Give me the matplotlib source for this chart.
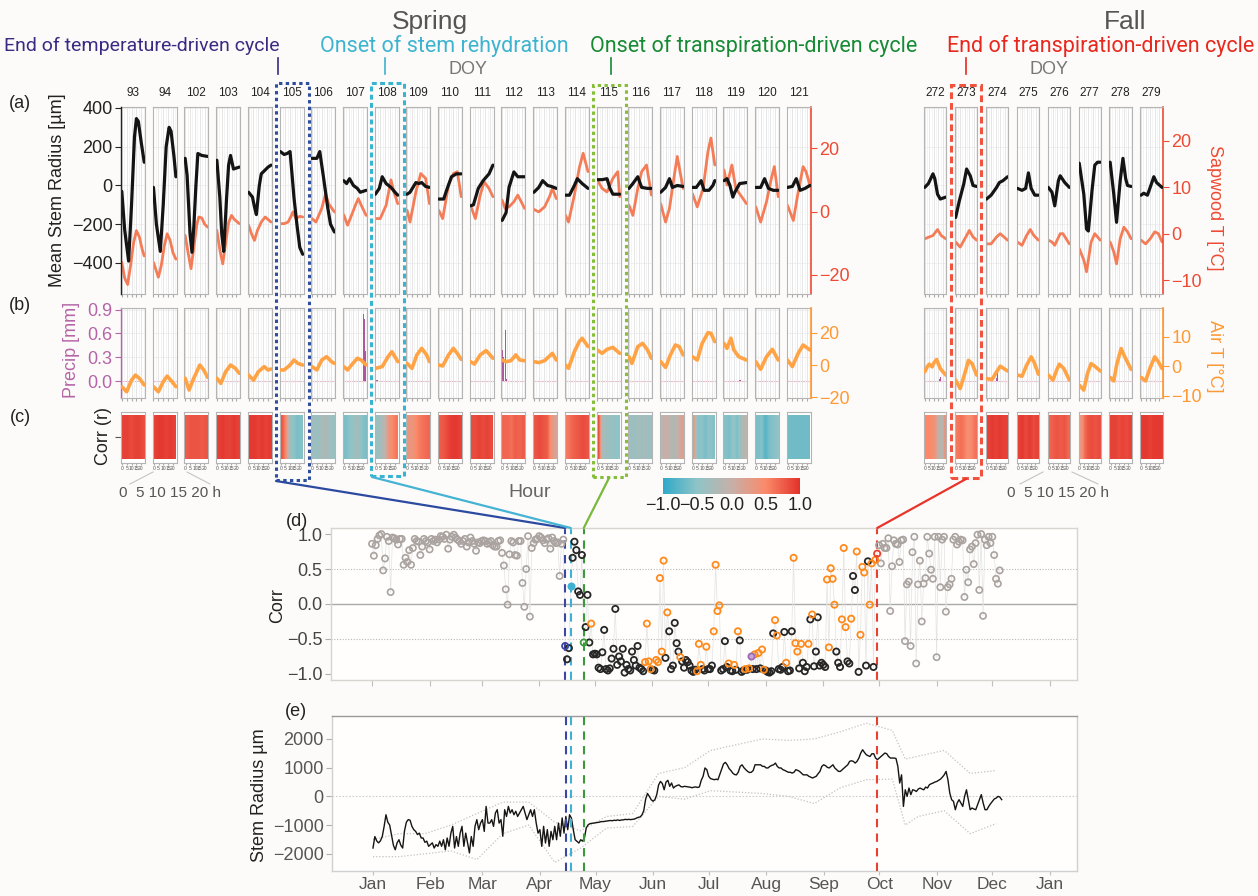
import numpy as np
import matplotlib
matplotlib.use('Agg')
import matplotlib.pyplot as plt
from matplotlib.colors import LinearSegmentedColormap, Normalize
from matplotlib.cm import ScalarMappable
from matplotlib.patches import Rectangle, ConnectionPatch
from matplotlib.lines import Line2D

plt.rcParams['font.family'] = ['Liberation Sans', 'DejaVu Sans']
HEAD_FONT = ['Roboto', 'DejaVu Sans']

# ---------------------------------------------------------------- data
spring_days = [93, 94, 102, 103, 104, 105, 106, 107, 108, 109, 110,
               111, 112, 113, 114, 115, 116, 117, 118, 119, 120, 121]
fall_days = [272, 273, 274, 275, 276, 277, 278, 279]

# mean diurnal stem radius (um), (hour, value)
stem_um = {
    93: [(0, -30), (3, -230), (7, -390), (10, -100), (13, 250), (15, 345), (17, 330), (20, 220), (23, 120)],
    94: [(0, -10), (3, -200), (7, -340), (10, -100), (13, 200), (16, 300), (18, 280), (21, 150), (23, 45)],
    102: [(0, 140), (2, 50), (5, -250), (7, -345), (9, -200), (11, 0), (13, 165), (17, 155), (23, 150)],
    103: [(0, 130), (3, -60), (5, -250), (7, -340), (10, -60), (12, 105), (14, 155), (17, 85), (20, 90), (23, 95)],
    104: [(0, -35), (4, -60), (6, -110), (8, -150), (11, 0), (13, 60), (17, 80), (20, 95), (23, 105)],
    105: [(0, 175), (4, 160), (7, 165), (10, 175), (12, 60), (14, -60), (17, -200), (20, -320), (23, -355)],
    106: [(0, 140), (5, 140), (8, 175), (12, 35), (16, -110), (19, -200), (23, -240)],
    107: [(0, 25), (3, 10), (6, 35), (10, 0), (14, -15), (17, -35), (23, -25)],
    108: [(0, -45), (4, -15), (7, 45), (11, 10), (16, -10), (21, -40), (23, -50)],
    109: [(0, -45), (3, -35), (9, 15), (12, 10), (15, 15), (19, -5), (23, -10)],
    110: [(0, -70), (5, -70), (8, -25), (13, 45), (18, 60), (23, 60)],
    111: [(0, -105), (3, -100), (8, -15), (13, 25), (19, 60), (23, 105)],
    112: [(0, -180), (4, -140), (7, -10), (12, 70), (16, 45), (23, 45)],
    113: [(0, -35), (5, -10), (9, 25), (14, 0), (18, -5), (23, -15)],
    114: [(0, -50), (4, -50), (9, 0), (12, 35), (17, 10), (23, -15)],
    115: [(0, 30), (5, 30), (10, 35), (13, -15), (16, -45), (23, -45)],
    116: [(0, -15), (4, 10), (9, 45), (13, -10), (19, -15), (23, -15)],
    117: [(0, -35), (5, -10), (9, 35), (12, -10), (17, 0), (23, -5)],
    118: [(0, -10), (4, -10), (9, 25), (12, -25), (17, -25), (21, 0), (23, 25)],
    119: [(0, 25), (3, 35), (6, 0), (9, -60), (11, -35), (16, 10), (23, 15)],
    120: [(0, -10), (5, -10), (9, 35), (13, -15), (18, -25), (23, -25)],
    121: [(0, -10), (5, -5), (9, 35), (13, -25), (18, -15), (23, 0)],
    272: [(0, -10), (4, 10), (9, 60), (11, 35), (14, -45), (17, -70), (23, -60)],
    273: [(0, -165), (4, -80), (9, 10), (12, 85), (16, 50), (19, 0), (23, -5)],
    274: [(0, -70), (5, -50), (11, -10), (14, 15), (18, 25), (23, 45)],
    275: [(0, -15), (5, -25), (9, -15), (12, 65), (15, -15), (19, -50), (23, -50)],
    276: [(0, -10), (4, -35), (7, -105), (11, 25), (13, 50), (18, 15), (23, -10)],
    277: [(0, 115), (5, -45), (8, -225), (10, -235), (14, -25), (17, 105), (20, 120), (23, 120)],
    278: [(0, 120), (4, -45), (7, -190), (11, 25), (14, 140), (17, 35), (19, 0), (23, -5)],
    279: [(0, -50), (3, -40), (7, -50), (10, -10), (14, 45), (17, 15), (23, -10)],
}

# sapwood temperature (degC)
sapwood_c = {
    93: [(0, -16), (3, -21), (6, -23), (9, -17), (12, -10), (15, -6), (18, -8), (21, -12), (23, -14)],
    94: [(0, -16), (5, -20.7), (8, -17), (11, -11), (14, -7), (17, -9), (20, -13), (23, -15)],
    102: [(0, -7.5), (3, -13), (6, -18), (9, -11), (12, -4), (14, -1.7), (17, -2), (20, -4), (23, -4.9)],
    103: [(0, -5.9), (3, -12), (6, -16.5), (9, -10), (12, -3.5), (15, -1.2), (18, -2.5), (23, -3.8)],
    104: [(0, -4.3), (3, -7), (6, -9.1), (9, -6), (13, -3.3), (17, -1.7), (20, -2.5), (23, -3.3)],
    105: [(0, -3.8), (4, -3.8), (8, -3.3), (11, -1.5), (13, -0.1), (16, -2.2), (20, -1.5), (23, -1.7)],
    106: [(0, -2.2), (4, -3.3), (10, 1.0), (14, 5.7), (17, 2.5), (23, -0.1)],
    107: [(0, -1), (4, -4.3), (8, -1.2), (12, 2), (15, 4.1), (18, 2), (23, -1.2)],
    108: [(0, -2.2), (5, -2.2), (11, 2), (16, 10), (19, 6.2), (23, 2.5)],
    109: [(0, 0.4), (3, -3.3), (9, 6.2), (14, 12), (19, 10.5), (23, 2.5)],
    110: [(0, 0.4), (4, -2.2), (10, 8.4), (15, 12), (19, 12.6), (23, 4.7)],
    111: [(0, 2), (5, -2.2), (10, 5.2), (14, 9.4), (19, 7.3), (23, 4.7)],
    112: [(0, 3.6), (3, 1), (7, 1.5), (12, 3.1), (16, 5.2), (23, 1)],
    113: [(0, 0.7), (5, -0.1), (11, 1.5), (16, 4.7), (19, 7.3), (23, 4.1)],
    114: [(0, -1.2), (3, -3.3), (9, 5.2), (14, 13.7), (18, 18.4), (23, 12.6)],
    115: [(0, 10), (5, 7.3), (10, 6.2), (16, 10.5), (21, 12.6), (23, 4.7)],
    116: [(0, 2), (4, -1.2), (9, 7.3), (13, 12.6), (18, 14.7), (23, 5.2)],
    117: [(0, 2.5), (5, -3.3), (9, 1), (14, 11.5), (17, 17.4), (23, 7.3)],
    118: [(0, 5.7), (5, 1.5), (11, 7.3), (16, 19), (19, 23.2), (23, 14.7)],
    119: [(0, 13.1), (3, 8.4), (8, 14.7), (12, 7.3), (18, 4.7), (23, 2.5)],
    120: [(0, 1.5), (5, -3.3), (11, 3.1), (16, 10.5), (19, 14.2), (23, 4.7)],
    121: [(0, 2), (6, -2.8), (11, 6.2), (16, 14.2), (19, 12.6), (23, 8.4)],
    272: [(0, -1.1), (5, -0.7), (9, -0.4), (14, 0.9), (18, -0.4), (23, -1.1)],
    273: [(0, -1.8), (5, -2.9), (12, -0.4), (15, 0.7), (19, -0.7), (23, -1.4)],
    274: [(0, -2.2), (5, -2.2), (11, -0.7), (15, 0), (23, -1.4)],
    275: [(0, -1.8), (5, -2.5), (10, -0.4), (14, 0.9), (18, -0.4), (23, -1.4)],
    276: [(0, -1.4), (4, -1.8), (7, -2.5), (13, 0), (16, 0), (23, -2.2)],
    277: [(0, -3.2), (5, -5.7), (8, -8.2), (13, -1.8), (17, 0), (23, -1.4)],
    278: [(0, -1.8), (4, -3.9), (7, -6.5), (11, -1.1), (15, 1.4), (19, 0.4), (23, -1.1)],
    279: [(0, -1.4), (5, -2.2), (10, -1.1), (15, 0.4), (19, 0), (23, -1.8)],
}

# air temperature (degC)
air_c = {
    93: [(0, -13.5), (5, -16.7), (10, -9.4), (14, -6.3), (18, -8.3), (23, -12.5)],
    94: [(0, -13.5), (5, -16.7), (10, -10.4), (14, -6.9), (19, -10.4), (23, -13.5)],
    102: [(0, -8.3), (4, -15.6), (8, -9.4), (15, 0), (19, -3.1), (23, -7.7)],
    103: [(0, -8.3), (4, -11.5), (9, -4.2), (14, 0), (19, -2.1), (23, -5.2)],
    104: [(0, -6.3), (5, -9.4), (10, -4.2), (16, -1), (20, -3.1), (23, -2.5)],
    105: [(0, -3.1), (4, -3.1), (10, 0), (14, 3.1), (18, 1), (23, 0)],
    106: [(0, -1), (5, -3.1), (10, 3.1), (15, 5.2), (20, 2.1), (23, 1)],
    107: [(0, -1), (4, -3.1), (8, 0), (14, 4.2), (18, 3.1), (23, 0)],
    108: [(0, -2.1), (4, -1.5), (7, -1), (13, 5.2), (17, 8.3), (23, 2.1)],
    109: [(0, 1), (5, -2.1), (10, 6.3), (15, 10.4), (20, 6.3), (23, 2.1)],
    110: [(0, 0), (4, -0.6), (10, 6.3), (15, 10.4), (20, 6.3), (23, 3.5)],
    111: [(0, 2.1), (4, 0.6), (10, 6.3), (16, 9), (20, 6.3), (23, 4.2)],
    112: [(0, 3.1), (4, 2.1), (9, 2.7), (14, 6.3), (18, 3.1), (23, 2.7)],
    113: [(0, 2.1), (5, 1.5), (11, 2.7), (16, 5.6), (19, 7.3), (23, 3.1)],
    114: [(0, 0), (3, -2.1), (9, 8.3), (14, 14.6), (17, 16.7), (23, 11.5)],
    115: [(0, 9.4), (5, 7.3), (10, 9.8), (16, 11), (23, 7.3)],
    116: [(0, 5.2), (3, 1), (9, 11.5), (14, 13.5), (19, 9.4), (23, 4.2)],
    117: [(0, 2.1), (5, -1.5), (10, 6.3), (15, 12.5), (19, 11.5), (23, 6.3)],
    118: [(0, 5.2), (5, 3.1), (10, 13.5), (16, 20.2), (19, 19.8), (23, 14.6)],
    119: [(0, 13.5), (3, 10.4), (7, 16.7), (10, 9.4), (15, 5.2), (23, 3.1)],
    120: [(0, 2.1), (5, -2.7), (11, 5.2), (17, 9.8), (23, 3.1)],
    121: [(0, 3.1), (5, -1), (11, 7.3), (16, 12.5), (23, 9.4)],
    272: [(0, -1.9), (3, 0), (5, 0.7), (8, -0.2), (10, 1.1), (13, 2.3), (17, -0.8), (23, -3)],
    273: [(0, -4.7), (5, -7.6), (10, -2.5), (14, 2), (18, 0.9), (23, -3)],
    274: [(0, -4.2), (6, -4.5), (11, -1.9), (15, 0), (19, -0.8), (23, -1.6)],
    275: [(0, -3), (5, -3.4), (10, 0.3), (15, 3.2), (18, 1.5), (23, -2.7)],
    276: [(0, -3), (5, -4.7), (9, -1.4), (12, 0.7), (17, -0.8), (23, -4.7)],
    277: [(0, -6.4), (5, -8.1), (9, -2.5), (13, 0.9), (17, 0), (23, -1.6)],
    278: [(0, -3.8), (4, -5), (7, 0.3), (12, 6), (16, 3.2), (23, -1.1)],
    279: [(0, -3.8), (5, -5), (10, -0.5), (15, 3.2), (19, 1.5), (23, -0.8)],
}

# hourly precipitation (mm), only days with rain
precip_mm = {
    107: [(20, 0.85), (21, 0.78), (22, 0.38)],
    108: [(0, 0.30), (1, 0.02), (2, 0.02)],
    111: [(19, 0.15), (20, 0.12), (21, 0.06), (22, 0.03)],
    112: [(0, 0.39), (1, 0.30), (3, 0.64), (4, 0.03)],
    119: [(16, 0.01), (17, 0.01)],
    272: [(0, 0.02), (16, 0.03), (17, 0.05)],
    274: [(0, 0.02), (11, 0.04), (12, 0.10)],
}

# correlation between stem radius and sapwood T, in 4-hour blocks
corr_hours = [0, 4, 8, 12, 16, 20, 24]
corr_block = {
    93: [0.90, 0.90, 0.85, 0.90, 0.90, 0.85],
    94: [0.90, 0.95, 0.95, 0.90, 0.95, 0.90],
    102: [0.75, 0.80, 0.80, 0.80, 0.75, 0.80],
    103: [0.90, 0.95, 0.90, 0.90, 0.95, 0.90],
    104: [0.95, 0.95, 0.90, 0.95, 0.90, 0.95],
    105: [0.80, 0.50, -0.30, -0.50, -0.60, -0.55],
    106: [-0.35, -0.40, -0.30, -0.20, -0.35, -0.40],
    107: [-0.60, -0.50, -0.45, -0.30, -0.50, -0.60],
    108: [-0.40, -0.30, -0.10, 0.30, 0.50, 0.60],
    109: [0.35, 0.35, 0.50, 0.60, 0.65, 0.70],
    110: [0.75, 0.80, 0.90, 0.95, 0.95, 0.90],
    111: [0.85, 0.85, 0.90, 0.85, 0.90, 0.85],
    112: [0.70, 0.70, 0.65, 0.75, 0.70, 0.75],
    113: [0.80, 0.85, 0.80, 0.75, 0.40, 0.15],
    114: [0.60, 0.70, 0.75, 0.80, 0.85, 0.80],
    115: [0.85, -0.30, -0.35, -0.40, -0.45, -0.50],
    116: [-0.35, -0.40, -0.30, -0.35, -0.30, -0.40],
    117: [-0.10, 0.05, -0.15, -0.20, 0.00, 0.20],
    118: [0.30, -0.55, -0.50, -0.60, -0.50, -0.55],
    119: [-0.55, -0.60, -0.45, -0.60, -0.30, -0.10],
    120: [-0.60, -0.55, -0.80, -0.60, -0.55, -0.50],
    121: [-0.65, -0.65, -0.65, -0.65, -0.65, -0.65],
    272: [0.50, 0.50, 0.40, 0.10, -0.30, 0.45],
    273: [0.60, 0.65, 0.55, 0.40, 0.55, 0.65],
    274: [0.90, 0.95, 0.90, 0.95, 0.90, 0.90],
    275: [0.90, 0.95, 0.85, 0.95, 0.85, 0.90],
    276: [0.70, 0.75, 0.80, 0.75, 0.80, 0.70],
    277: [0.30, 0.65, 0.80, 0.85, 0.80, 0.85],
    278: [0.90, 0.90, 0.85, 0.90, 0.85, 0.90],
    279: [0.95, 0.95, 0.90, 0.95, 0.95, 0.95],
}

# daily correlation, DOY 1-104 (before the season)
corr_winter = [
    0.86, 0.69, 0.84, 0.93, 0.98, 1.00, 0.48, 0.65, 0.96, 0.90,
    0.17, 0.95, 0.94, 0.92, 0.85, 0.93, 0.93, 0.56, 0.66, 0.60,
    0.77, 0.56, 0.80, 0.93, 0.90, 0.89, 0.70, 0.82, 0.93, 0.90,
    0.88, 0.78, 0.93, 0.90, 0.92, 0.88, 0.92, 0.97, 0.96, 0.93,
    0.99, 0.79, 0.92, 0.96, 0.99, 0.95, 0.92, 0.90, 0.86, 0.90,
    0.93, 0.82, 0.88, 0.95, 0.90, 0.86, 0.76, 0.88, 0.87, 0.90,
    0.91, 0.90, 0.86, 0.88, 0.90, 0.84, 0.82, 0.82, 0.90, 0.91,
    0.73, 0.55, 0.21, -0.01, 0.71, 0.90, 0.88, 0.70, 0.69, 0.90,
    0.90, 0.30, -0.04, 0.50, 0.97, -0.18, 0.80, 0.87, 0.92, 0.93,
    0.97, 0.95, 0.91, 0.87, 0.92, 0.94, 0.79, 0.95, 0.90, 0.87,
    0.88, 0.40, 0.86, 0.92,
]
# daily correlation, DOY 105-273 (growing season)
corr_season = [
    -0.60, -0.79, -0.63, 0.26, 0.66, 0.89, 0.77, 0.18, 0.13, 0.70,
    -0.55, -0.33, 0.13, -0.55, -0.28, -0.72, -0.71, -0.72, -0.91, -0.93,
    -0.69, -0.37, -0.93, -0.95, -0.92, -0.78, -0.64, -0.07, -0.87, -0.75,
    -0.82, -0.64, -0.98, -0.87, -0.93, -0.95, -0.68, -0.80, -0.88, -0.60,
    -0.91, -0.93, -0.96, -0.83, -0.28, -0.82, -0.93, -0.94, -0.95, -0.80,
    -0.83, 0.37, -0.68, 0.62, -0.77, -0.12, -0.39, -0.93, -0.88, -0.27,
    -0.56, -0.68, -0.76, -0.82, -0.91, -0.80, -0.83, -0.88, -0.95, -0.97,
    -0.94, -0.96, -0.57, -0.87, -0.93, -0.95, -0.61, -0.93, -0.93, -0.88,
    -0.39, 0.56, -0.10, -0.02, -0.95, -0.93, -0.53, -0.90, -0.85, -0.95,
    -0.96, -0.87, -0.94, -0.39, -0.52, -0.97, -0.95, -0.93, -0.94, -0.92,
    -0.74, -0.93, -0.72, -0.93, -0.70, -0.92, -0.65, -0.94, -0.95, -0.97,
    -0.98, -0.96, -0.42, -0.23, -0.45, -0.93, -0.94, -0.90, -0.40, -0.84,
    -0.96, -0.95, -0.39, 0.66, -0.56, -0.68, -0.92, -0.57, -0.84, -0.96,
    -0.90, -0.57, -0.22, -0.15, -0.89, -0.68, -0.19, -0.88, -0.84, -0.87,
    -0.90, 0.35, -0.62, 0.51, 0.36, -0.01, -0.68, -0.84, -0.90, -0.22,
    0.80, -0.33, -0.82, -0.85, -0.21, 0.40, 0.20, 0.75, -0.97, -0.44,
    0.53, 0.45, -0.88, 0.61, -0.01, 0.58, -0.90, 0.63, 0.72,
]
# days of the season flagged in orange
orange_doy = [119, 148, 149, 150, 151, 154, 155, 156, 157, 158, 160, 167,
              176, 177, 178, 181, 185, 186, 187, 188, 193, 196, 198, 202,
              204, 207, 209, 211, 212, 218, 219, 224, 228, 229, 230, 232,
              236, 238, 246, 247, 248, 249, 250, 254, 255, 256, 259, 262,
              264, 265, 266, 269, 270, 272]
other_doy = 205
# daily correlation, DOY 274 onward
corr_autumn = [
    0.84, 0.58, 0.86, 0.80, 0.80, 0.94, -0.10, 0.54, 0.91, 0.86,
    0.85, 0.60, 0.91, 0.92, -0.53, 0.28, 0.32, -0.60, 0.74, 0.96,
    -0.85, 0.28, 0.62, -0.25, 0.29, 0.37, 0.96, 0.72, 0.49, 0.36,
    0.96, -0.76, 0.96, 0.24, 0.92, 0.96, -0.11, 0.24, 0.28, 0.36,
    0.92, 0.96, 0.85, 0.89, 0.92, 0.91, 0.10, 0.49, 0.31, 0.78,
    0.82, 0.57, 0.87, 0.99, 0.20, 1.00, -0.17, 0.92, 0.84, 0.96,
    0.87, 0.96, 0.70, 0.36, 0.29, 0.48,
]

# event days
doy_temp_end = 105
doy_rehydration = 108
doy_transp_onset = 115
doy_transp_end = 273

# daily stem radius (um), DOY 1-340
radius_daily = [
    -1800, -1400, -1550, -1620, -1550, -1400, -1050, -640, -900, -1000,
    -1350, -1700, -1860, -1620, -1510, -1700, -1800, -1200, -900, -810,
    -830, -1045, -1160, -1220, -1330, -1280, -1450, -1450, -1600, -1560,
    -1740, -1680, -1620, -1800, -1680, -1740, -1560, -1740, -1510, -1860,
    -1450, -1740, -1280, -1045, -1800, -1400, -1740, -1280, -1045, -1740,
    -1280, -1625, -1970, -1400, -1740, -1045, -810, -1160, -930, -810,
    -1220, -350, -930, -930, -810, -1045, -580, -465, -930, -810,
    -1390, -465, -700, -350, -580, -465, -640, -520, -700, -580,
    -465, -350, -580, -810, -640, -465, -700, -465, -930, -1280,
    -1160, -1740, -1045, -1625, -1160, -1740, -1220, -1510, -1045, -1510,
    -930, -1390, -750, -1280, -700, -1160, -640, -760, -1160, -1510,
    -1570, -1625, -1510, -1560, -1450, -1100, -990, -950, -940, -930,
    -920, -910, -900, -880, -880, -870, -860, -850, -840, -850,
    -830, -840, -820, -840, -820, -820, -800, -810, -800, -810,
    -800, -790, -760, -730, -720, -650, -500, -100, 100, 0,
    -115, -170, -115, 60, 400, 520, 450, 230, 500, 560,
    350, 465, 290, 350, 380, 400, 340, 330, 350, 340,
    330, 320, 300, 320, 330, 310, 330, 560, 700, 990,
    930, 700, 620, 600, 580, 600, 580, 760, 950, 1130,
    1185, 1100, 970, 900, 810, 760, 750, 850, 1045, 1100,
    1000, 930, 870, 830, 840, 900, 1100, 1100, 1100, 1100,
    1045, 1045, 990, 990, 1045, 1080, 1100, 1160, 1045, 990,
    990, 930, 905, 870, 840, 840, 810, 840, 930, 905,
    870, 810, 750, 750, 750, 700, 670, 640, 670, 700,
    790, 870, 1045, 1100, 1070, 1010, 990, 1045, 1100, 990,
    930, 870, 870, 930, 990, 1045, 1100, 1220, 1240, 1220,
    1160, 1220, 1335, 1510, 1625, 1530, 1450, 1415, 1390, 1485,
    1485, 1335, 1280, 1335, 1390, 1450, 1510, 1485, 1390, 1335,
    1335, 1335, 1320, 1045, 465, 750, -350, 230, 0, 290,
    60, 230, 210, 170, 255, 290, 255, 230, 325, 290,
    405, 440, 465, 500, 520, 560, 600, 670, 750, 870,
    580, 115, -115, -175, -465, -230, -115, -230, -350, 0,
    230, -115, -465, -405, -440, -465, -290, -115, 60, -230,
    -465, -465, -350, -255, -175, -90, -60, 0, -25, -115,
]
# spread between trees (upper / lower bound, um)
spread_doy = [1, 15, 29, 43, 57, 71, 85, 99, 113, 127, 141, 155, 169,
              183, 197, 211, 225, 239, 253, 267, 281, 288, 295, 309, 323, 337]
spread_hi = [-1500, -1300, -1300, -1000, -600, -200, -200, -900, -1200, -700,
             -600, 800, 1000, 1600, 1800, 2000, 1950, 2000, 2250, 2550,
             2300, 1300, 1400, 1600, 800, 900]
spread_lo = [-2100, -2100, -2000, -1900, -2200, -1300, -1000, -2300, -1800, -1100,
             -1050, 0, -100, 200, 150, 100, 0, -250, 300, 580,
             600, -1000, -700, -500, -1300, -950]

month_doy = [1, 32, 60, 91, 121, 152, 182, 213, 244, 274, 305, 335, 366]
month_labels = ['Jan', 'Feb', 'Mar', 'Apr', 'May', 'Jun', 'Jul',
                'Aug', 'Sep', 'Oct', 'Nov', 'Dec', 'Jan']

# ---------------------------------------------------------------- layout
W, H = 1258, 896
fig = plt.figure(figsize=(W / 100, H / 100), dpi=100)
fig.patch.set_facecolor('#fdfbfa')


def px_rect(x0, y0, x1, y1):
    return [x0 / W, 1 - y1 / H, (x1 - x0) / W, (y1 - y0) / H]


def fxy(x, y):
    return (x / W, 1 - y / H)


def ftext(x, y, s, **kw):
    kw.setdefault('ha', 'center')
    kw.setdefault('va', 'center')
    return fig.text(x / W, 1 - y / H, s, **kw)


corr_cmap = LinearSegmentedColormap.from_list(
    'corr', [(0.0, '#2fa9c9'), (0.25, '#8fc4c7'), (0.5, '#c6b0a8'),
             (0.75, '#fb8a6a'), (1.0, '#e2312a')])

C_STEM = '#141414'
C_SAP = '#f47c57'
C_SAP_AX = '#ee4a32'
C_AIR = '#ffa345'
C_AIR_AX = '#ff9933'
C_RAIN = '#b0559f'
C_RAIN_AX = '#b565a7'

STEM_LIM = (-560, 405)
RAIN_LIM = (-0.21, 0.92)


def hour_axis(ax, labels=False):
    ax.set_xlim(-0.8, 23.8)
    ax.set_xticks([0, 5, 10, 15, 20])
    ax.set_xticks([2.5, 7.5, 12.5, 17.5, 22.5], minor=True)
    ax.grid(True, which='major', axis='x', color='#e2e2e2', lw=0.6)
    ax.grid(True, which='minor', axis='x', color='#f0f0f0', lw=0.5)
    ax.set_axisbelow(True)
    ax.tick_params(axis='x', which='major', length=2, color='#aaaaaa',
                   labelbottom=labels, labelsize=3.6, pad=1, labelcolor='#555555')
    ax.tick_params(axis='x', which='minor', length=0)
    for s in ax.spines.values():
        s.set_color('#b4b4b4')
        s.set_linewidth(0.8)


def hide_y(ax):
    ax.tick_params(axis='y', which='both', left=False, right=False,
                   labelleft=False, labelright=False)


groups = [
    dict(days=spring_days, x0=121, pitch=31.7, width=24,
         sap_lim=(-26, 33), sap_ticks=[-20, 0, 20],
         air_lim=(-20.6, 35.6), air_ticks=[-20, 0, 20], fall=False),
    dict(days=fall_days, x0=924, pitch=30.9, width=22.5,
         sap_lim=(-13, 27.3), sap_ticks=[-10, 0, 10, 20],
         air_lim=(-10.8, 19.8), air_ticks=[-10, 0, 10], fall=True),
]

for g in groups:
    n = len(g['days'])
    for i, doy in enumerate(g['days']):
        left = g['x0'] + i * g['pitch']
        right = left + g['width']
        first = (i == 0) and not g['fall']
        last = i == n - 1
        ftext((left + right) / 2, 93, str(doy), fontsize=8.5, color='#222222')

        # (a) sapwood T (host) and stem radius (twin on top)
        ax_t = fig.add_axes(px_rect(left, 107, right, 294))
        ax_t.set_facecolor('white')
        hour_axis(ax_t)
        lo, hi = g['sap_lim']
        for sv in [-400, -200, 0, 200, 400]:
            frac = (sv - STEM_LIM[0]) / (STEM_LIM[1] - STEM_LIM[0])
            ax_t.axhline(lo + frac * (hi - lo), color='#ededed', lw=0.6, zorder=0)
        h, v = zip(*sapwood_c[doy])
        ax_t.plot(h, v, color=C_SAP, lw=2.0, solid_capstyle='round',
                  solid_joinstyle='round', zorder=2)
        ax_t.set_ylim(g['sap_lim'])
        ax_s = ax_t.twinx()
        ax_s.set_ylim(STEM_LIM)
        h, v = zip(*stem_um[doy])
        ax_s.plot(h, v, color=C_STEM, lw=2.3, solid_capstyle='round',
                  solid_joinstyle='round')
        for s in ax_s.spines.values():
            s.set_visible(False)
        hide_y(ax_s)
        ax_t.yaxis.tick_right()
        hide_y(ax_t)
        if first:
            ax_s.yaxis.tick_left()
            ax_s.spines['left'].set_visible(True)
            ax_s.spines['left'].set_color('#222222')
            ax_s.spines['left'].set_linewidth(1.0)
            ax_s.set_yticks([-400, -200, 0, 200, 400])
            ax_s.tick_params(axis='y', left=True, labelleft=True, labelsize=13,
                             length=4, color='#222222', labelcolor='#222222', pad=2)
        if last:
            ax_t.set_yticks(g['sap_ticks'])
            ax_t.spines['right'].set_color(C_SAP_AX)
            ax_t.spines['right'].set_linewidth(1.2)
            ax_t.tick_params(axis='y', right=True, labelright=True, labelsize=13,
                             length=4, color=C_SAP_AX, labelcolor=C_SAP_AX, pad=2)

        # (b) precipitation (host) and air T (twin)
        ax_p = fig.add_axes(px_rect(left, 308, right, 398))
        ax_p.set_facecolor('white')
        hour_axis(ax_p)
        ax_p.set_ylim(RAIN_LIM)
        for pv in [0.3, 0.6, 0.9]:
            ax_p.axhline(pv, color='#ededed', lw=0.6, zorder=0)
        ax_p.axhline(0, color='#e9bfcd', lw=0.8, zorder=0)
        if doy in precip_mm:
            h, v = zip(*precip_mm[doy])
            ax_p.bar(h, v, width=0.9, color=C_RAIN, zorder=2)
        hide_y(ax_p)
        ax_a = ax_p.twinx()
        ax_a.set_ylim(g['air_lim'])
        h, v = zip(*air_c[doy])
        ax_a.plot(h, v, color=C_AIR, lw=2.6, solid_capstyle='round',
                  solid_joinstyle='round')
        for s in ax_a.spines.values():
            s.set_visible(False)
        hide_y(ax_a)
        ax_p.yaxis.tick_left()
        hide_y(ax_p)
        if first:
            ax_p.set_yticks([0.0, 0.3, 0.6, 0.9])
            ax_p.set_yticklabels(['0.0', '0.3', '0.6', '0.9'])
            ax_p.spines['left'].set_color(C_RAIN_AX)
            ax_p.spines['left'].set_linewidth(1.0)
            ax_p.tick_params(axis='y', left=True, labelleft=True, labelsize=13,
                             length=4, color=C_RAIN_AX, labelcolor=C_RAIN_AX, pad=2)
        if last:
            ax_a.yaxis.tick_right()
            ax_a.set_yticks(g['air_ticks'])
            ax_a.spines['right'].set_visible(True)
            ax_a.spines['right'].set_color(C_AIR_AX)
            ax_a.spines['right'].set_linewidth(1.2)
            ax_a.tick_params(axis='y', right=True, labelright=True, labelsize=13,
                             length=4, color=C_AIR_AX, labelcolor=C_AIR_AX, pad=2)

        # (c) hourly correlation strip
        ax_c = fig.add_axes(px_rect(left, 412, right, 463))
        ax_c.set_facecolor('white')
        ax_c.imshow(np.array([corr_block[doy]]), cmap=corr_cmap, vmin=-1, vmax=1,
                    aspect='auto', interpolation='bilinear',
                    extent=(corr_hours[0] - 0.5, corr_hours[-1] - 0.5, 0, 1))
        ax_c.set_ylim(-0.08, 1.08)
        ax_c.set_xlim(-1.3, 24.3)
        ax_c.set_xticks([0, 5, 10, 15, 20])
        ax_c.set_xticklabels(['0', '5', '10', '15', '20'])
        ax_c.tick_params(axis='x', length=1.5, color='#aaaaaa', labelsize=3.6,
                         pad=1, labelcolor='#555555')
        for s in ax_c.spines.values():
            s.set_color('#b4b4b4')
            s.set_linewidth(0.8)
        if first:
            ax_c.set_yticks([0.5])
            ax_c.set_yticklabels([''])
            ax_c.tick_params(axis='y', length=4, color='#555555')
        else:
            ax_c.set_yticks([])

# axis titles of the small multiples
ftext(58, 190, 'Mean Stem Radius [µm]', rotation=90, fontsize=13, color='#222222')
ftext(72, 350, 'Precip [mm]', rotation=90, fontsize=13, color=C_RAIN_AX)
ftext(104, 436, 'Corr (r)', rotation=90, fontsize=13, color='#222222')
ftext(1215, 208, 'Sapwood T [°C]', rotation=270, fontsize=13, color=C_SAP_AX)
ftext(1214, 356, 'Air T [°C]', rotation=270, fontsize=13, color=C_AIR_AX)

for lab, y in [('(a)', 104), ('(b)', 305), ('(c)', 417)]:
    ftext(20, y, lab, fontsize=13, color='#222222')

# hour scale hints under the strips
ftext(170, 493, '0  5 10 15 20 h', fontsize=11, color='#555555')
ftext(1058, 493, '0  5 10 15 20 h', fontsize=11, color='#555555')
for (xa, ya), (xb, yb) in [((130, 484), (153, 472)), ((187, 472), (210, 484)),
                           ((1020, 484), (1043, 472)), ((1072, 472), (1098, 484))]:
    fig.add_artist(Line2D([xa / W, xb / W], [1 - ya / H, 1 - yb / H],
                          transform=fig.transFigure, color='#c4c4c4', lw=0.8))
ftext(530, 492, 'Hour', fontsize=14, color='#666666')

# colour bar
cax = fig.add_axes(px_rect(663, 478, 800, 494))
cb = fig.colorbar(ScalarMappable(norm=Normalize(-1, 1), cmap=corr_cmap),
                  cax=cax, orientation='horizontal')
cb.set_ticks([-1, -0.5, 0, 0.5, 1])
cb.set_ticklabels(['−1.0', '−0.5', '0.0', '0.5', '1.0'])
cb.ax.tick_params(labelsize=13, length=0, pad=2, labelcolor='#222222')
cb.outline.set_visible(False)

# ---------------------------------------------------------------- (d) daily correlation
DOY_LIM = (-21.1, 380.6)
C_EVT = {doy_temp_end: '#3d46a3', doy_rehydration: '#3fb2d4',
         doy_transp_onset: '#3a9a3a', doy_transp_end: '#e8412e'}

ax_d = fig.add_axes(px_rect(331, 528, 1077, 680))
ax_d.set_facecolor('#fffefd')
ax_d.set_xlim(DOY_LIM)
ax_d.set_ylim(-1.086, 1.086)

win_doy = np.arange(1, 1 + len(corr_winter))
sea_doy = np.arange(105, 105 + len(corr_season))
aut_doy = np.arange(274, 274 + len(corr_autumn))
sea_r = np.array(corr_season)

all_doy = np.concatenate([win_doy, sea_doy, aut_doy])
all_r = np.concatenate([corr_winter, corr_season, corr_autumn])
ax_d.plot(all_doy, all_r, color='#e2e2e2', lw=0.5, zorder=1)
ax_d.axhline(0, color='#a8a8a8', lw=1.0, zorder=0)
for yv in (-0.5, 0.5):
    ax_d.axhline(yv, color='#b8b8b8', lw=0.8, ls=(0, (1, 1.5)), zorder=0)
for d, c in C_EVT.items():
    ax_d.axvline(d, color=c, lw=1.5, ls=(0, (4, 3)), zorder=2)

gray = '#aaa39f'
ax_d.scatter(win_doy, corr_winter, s=20, facecolors='none', edgecolors=gray,
             linewidths=1.2, zorder=3)
ax_d.scatter(aut_doy, corr_autumn, s=20, facecolors='none', edgecolors=gray,
             linewidths=1.2, zorder=3)
special = set(C_EVT) | {other_doy}
is_orange = np.isin(sea_doy, orange_doy)
is_black = ~is_orange & ~np.isin(sea_doy, list(special))
ax_d.scatter(sea_doy[is_black], sea_r[is_black], s=20, facecolors='none',
             edgecolors='#262626', linewidths=1.3, zorder=4)
ax_d.scatter(sea_doy[is_orange], sea_r[is_orange], s=20, facecolors='none',
             edgecolors='#ff8a1c', linewidths=1.3, zorder=4)
for d, c in C_EVT.items():
    fc = c if d == doy_rehydration else 'none'
    ax_d.scatter([d], [sea_r[d - 105]], s=20, facecolors=fc, edgecolors=c,
                 linewidths=1.3, zorder=5)
ax_d.scatter([other_doy], [sea_r[other_doy - 105]], s=20, facecolors='#c9a6d8',
             edgecolors='#9b6bb5', linewidths=1.3, zorder=5)

ax_d.set_xticks(month_doy)
ax_d.set_xticklabels([])
ax_d.set_yticks([-1, -0.5, 0, 0.5, 1])
ax_d.set_yticklabels(['−1.0', '−0.5', '0.0', '0.5', '1.0'])
ax_d.tick_params(axis='x', length=4, color='#c0c0c0')
ax_d.tick_params(axis='y', length=4, color='#b0b0b0', labelsize=13,
                 labelcolor='#444444', pad=2)
for s in ax_d.spines.values():
    s.set_color('#d8d4d0')
    s.set_linewidth(1.0)
ftext(278, 606, 'Corr', rotation=90, fontsize=13, color='#222222')
ftext(297, 521, '(d)', fontsize=13, color='#222222')

# ---------------------------------------------------------------- (e) seasonal stem radius
ax_e = fig.add_axes(px_rect(332, 716, 1077, 871))
ax_e.set_facecolor('#fffefd')
ax_e.set_xlim(DOY_LIM)
ax_e.set_ylim(-2600, 2800)
ax_e.axhline(0, color='#cfcfcf', lw=0.8, ls=(0, (1.5, 1.5)), zorder=0)
ax_e.plot(spread_doy, spread_hi, color='#c2c2c2', lw=0.9, ls=(0, (1, 1.5)))
ax_e.plot(spread_doy, spread_lo, color='#c2c2c2', lw=0.9, ls=(0, (1, 1.5)))
ax_e.plot(np.arange(1, 1 + len(radius_daily)), radius_daily, color='#151515', lw=1.0)
for d, c in C_EVT.items():
    ax_e.axvline(d, color=c, lw=1.5, ls=(0, (4, 3)), zorder=3)
ax_e.set_xticks(month_doy)
ax_e.set_xticklabels(month_labels)
ax_e.set_yticks([-2000, -1000, 0, 1000, 2000])
ax_e.set_yticklabels(['−2000', '−1000', '0', '1000', '2000'])
ax_e.tick_params(axis='x', length=3, color='#c0c0c0', labelsize=12.5,
                 labelcolor='#555555', pad=1)
ax_e.tick_params(axis='y', length=4, color='#b0b0b0', labelsize=13,
                 labelcolor='#555555', pad=2)
for s in ax_e.spines.values():
    s.set_color('#d0d0d0')
    s.set_linewidth(1.0)
ax_e.spines['top'].set_color('#9a9a9a')
ftext(259, 795, 'Stem Radius µm', rotation=90, fontsize=13, color='#222222')
ftext(296, 712, '(e)', fontsize=13, color='#222222')

# ---------------------------------------------------------------- headers and highlights
ftext(430, 22, 'Spring', fontsize=19, color='#555555')
ftext(1125, 22, 'Fall', fontsize=19, color='#555555')
ftext(468, 70, 'DOY', fontsize=13, color='#777777')
ftext(1049, 70, 'DOY', fontsize=13, color='#777777')

events = [
    ('End of temperature-driven cycle', 4, 'left', 14, 278, '#3c2a82'),
    ('Onset of stem rehydration', 444, 'center', 15.5, 385, '#3cb4cf'),
    ('Onset of transpiration-driven cycle', 754, 'center', 15.5, 611, '#168a34'),
    ('End of transpiration-driven cycle', 1101, 'center', 15.5, 966, '#e8281e'),
]
for label, xc, align, size, xt, col in events:
    ftext(xc, 46, label, ha=align, fontsize=size, color=col, family=HEAD_FONT)
    fig.add_artist(Line2D([xt / W, xt / W], [1 - 58 / H, 1 - 74 / H],
                          transform=fig.transFigure, color=col, lw=1.2))


def dotted_box(x0, y0, x1, y1, color, dash):
    fig.add_artist(Rectangle(fxy(x0, y1), (x1 - x0) / W, (y1 - y0) / H,
                             transform=fig.transFigure, fill=False,
                             edgecolor=color, lw=2.2, linestyle=dash))


dotted_box(276, 83, 309, 480, '#2e4f9e', (0, (1.1, 1.1)))
dotted_box(371, 83, 404, 476, '#38b4d0', (0, (1.6, 1.1)))
dotted_box(593, 85, 626, 477, '#86bd3b', (0, (1.1, 1.1)))
dotted_box(951, 85, 981, 478, '#f0533f', (0, (2.2, 1.3)))

# links from the highlighted days to the daily correlation panel
links = [((276, 481), doy_temp_end, '#2c4aa0'),
         ((372, 477), doy_rehydration, '#45b3d3'),
         ((609, 478), doy_transp_onset, '#7ab83a'),
         ((966, 479), doy_transp_end, '#e8342a')]
for (px, py), d, col in links:
    con = ConnectionPatch(xyA=fxy(px, py), coordsA=fig.transFigure,
                          xyB=(d, 1.086), coordsB=ax_d.transData,
                          color=col, lw=1.6)
    fig.add_artist(con)

fig.savefig('out.png', dpi=100, facecolor=fig.get_facecolor())
